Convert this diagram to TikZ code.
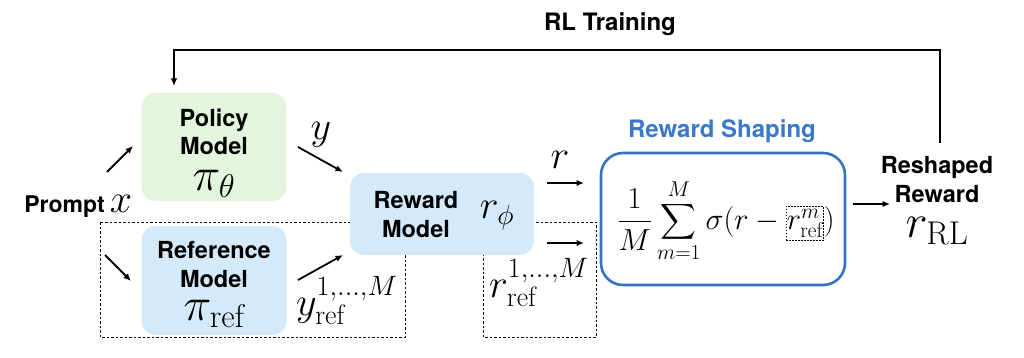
\documentclass[tikz,border=0pt]{standalone}
\usepackage{fix-cm}
\usepackage{amsmath}
\usepackage{fontspec}
\newfontfamily\hv{TeX Gyre Heros}
\usetikzlibrary{arrows.meta}
\definecolor{pgreen}{HTML}{E3F5DC}
\definecolor{pblue}{HTML}{D4EAFB}
\definecolor{sblue}{HTML}{3572C0}
\definecolor{tblue}{HTML}{3A78C9}
\tikzset{
  modelbox/.style={rounded corners=14pt, inner sep=0pt},
  lbl/.style={font=\hv\bfseries\fontsize{23.5}{27}\selectfont, anchor=base, inner sep=0pt},
  mth/.style={font=\fontsize{40}{44}\selectfont, anchor=base, inner sep=0pt},
  big/.style={font=\fontsize{47}{50}\selectfont, anchor=base, inner sep=0pt},
  arr/.style={line width=1.8pt, -{Latex[length=7.5pt,width=6.5pt]}},
  dbox/.style={dashed, dash pattern=on 2.5pt off 2pt, line width=0.8pt},
}
\begin{document}
\begin{tikzpicture}[x=1pt,y=-1pt]
\useasboundingbox (0,0) rectangle (1024,358);
% dashed groups
\draw[dbox] (100,222) rectangle (405,337);
\draw[dbox] (483,222) rectangle (596,337);
% boxes
\node[modelbox, fill=pgreen, minimum width=145pt, minimum height=108pt] (policy) at (214,147) {};
\node[modelbox, fill=pblue, minimum width=145pt, minimum height=109pt] (ref) at (214,280.5) {};
\node[modelbox, fill=pblue, minimum width=184pt, minimum height=82pt] (reward) at (442,214) {};
\node[rounded corners=22pt, draw=sblue, line width=2.6pt, fill=white, minimum width=244pt, minimum height=132pt] (shaping) at (723,219) {};
% texts in boxes
\node[lbl] (pol1) at (214,127) {Policy};
\node[lbl] (pol2) at (214,155) {Model};
\node[big] (pol3) at (214,190) {$\pi_\theta$};
\node[lbl] (ref1) at (214,258) {Reference};
\node[lbl] (ref2) at (214,287) {Model};
\node[big] (ref3) at (214,320) {$\pi_{\mathrm{ref}}$};
\node[lbl] (rw1) at (416,208) {Reward};
\node[lbl] (rw2) at (416,237) {Model};
\node[mth] (rw3) at (497,218) {$r_\phi$};
\node[lbl, text=tblue, font=\hv\bfseries\fontsize{24}{27}\selectfont] (shtitle) at (722,138) {Reward Shaping};
\node[font=\fontsize{30.5}{33}\selectfont, inner sep=0pt] (formula) at (726,221)
  {$\displaystyle \frac{1}{M}\sum_{m=1}^{M}\sigma(r-\tikz[baseline=(q.base)]\node[draw,dashed,dash pattern=on 1.5pt off 1.5pt,line width=0.7pt,inner xsep=0.5pt,inner ysep=3pt](q){$r^m_{\mathrm{ref}}$};)$};
% outside texts
\node[lbl, font=\hv\bfseries\fontsize{23}{26}\selectfont, anchor=base east] (prompt) at (105,212) {Prompt};
\node[mth] (xin) at (121,212) {$x$};
\node[mth] (ylab) at (321,140) {$y$};
\node[mth, anchor=base west] (yref) at (296,315) {$y^{1,\ldots,M}_{\mathrm{ref}}$};
\node[mth] (rlab) at (560,168) {$r$};
\node[mth, anchor=base west] (rref) at (489,297) {$r^{1,\ldots,M}_{\mathrm{ref}}$};
\node[lbl] (resh1) at (937,173) {Reshaped};
\node[lbl] (resh2) at (937,202) {Reward};
\node[big] (rrl) at (937,237) {$r_{\mathrm{RL}}$};
\node[lbl, font=\hv\bfseries\fontsize{24}{27}\selectfont] (rltrain) at (610,31) {RL Training};
% arrow coordinates
\coordinate (a1s) at (107,172); \coordinate (a1e) at (133,146);
\coordinate (a2s) at (105,255); \coordinate (a2e) at (131,281);
\coordinate (a3s) at (298,147); \coordinate (a3e) at (343,172);
\coordinate (a4s) at (298,280); \coordinate (a4e) at (343,255);
\coordinate (a5s) at (547,183); \coordinate (a5e) at (584,183);
\coordinate (a6s) at (547,243); \coordinate (a6e) at (584,243);
\coordinate (a7s) at (853,204); \coordinate (a7e) at (890,204);
\coordinate (lps) at (940,143); \coordinate (lpc1) at (940,50);
\coordinate (lpc2) at (174,50); \coordinate (lpe) at (174,86);
\draw[arr] (a1s) -- (a1e);
\draw[arr] (a2s) -- (a2e);
\draw[arr] (a3s) -- (a3e);
\draw[arr] (a4s) -- (a4e);
\draw[arr] (a5s) -- (a5e);
\draw[arr] (a6s) -- (a6e);
\draw[arr] (a7s) -- (a7e);
\draw[line width=2pt, -{Latex[length=7.5pt,width=6.5pt]}] (lps) -- (lpc1) -- (lpc2) -- (lpe);
\end{tikzpicture}
\end{document}
